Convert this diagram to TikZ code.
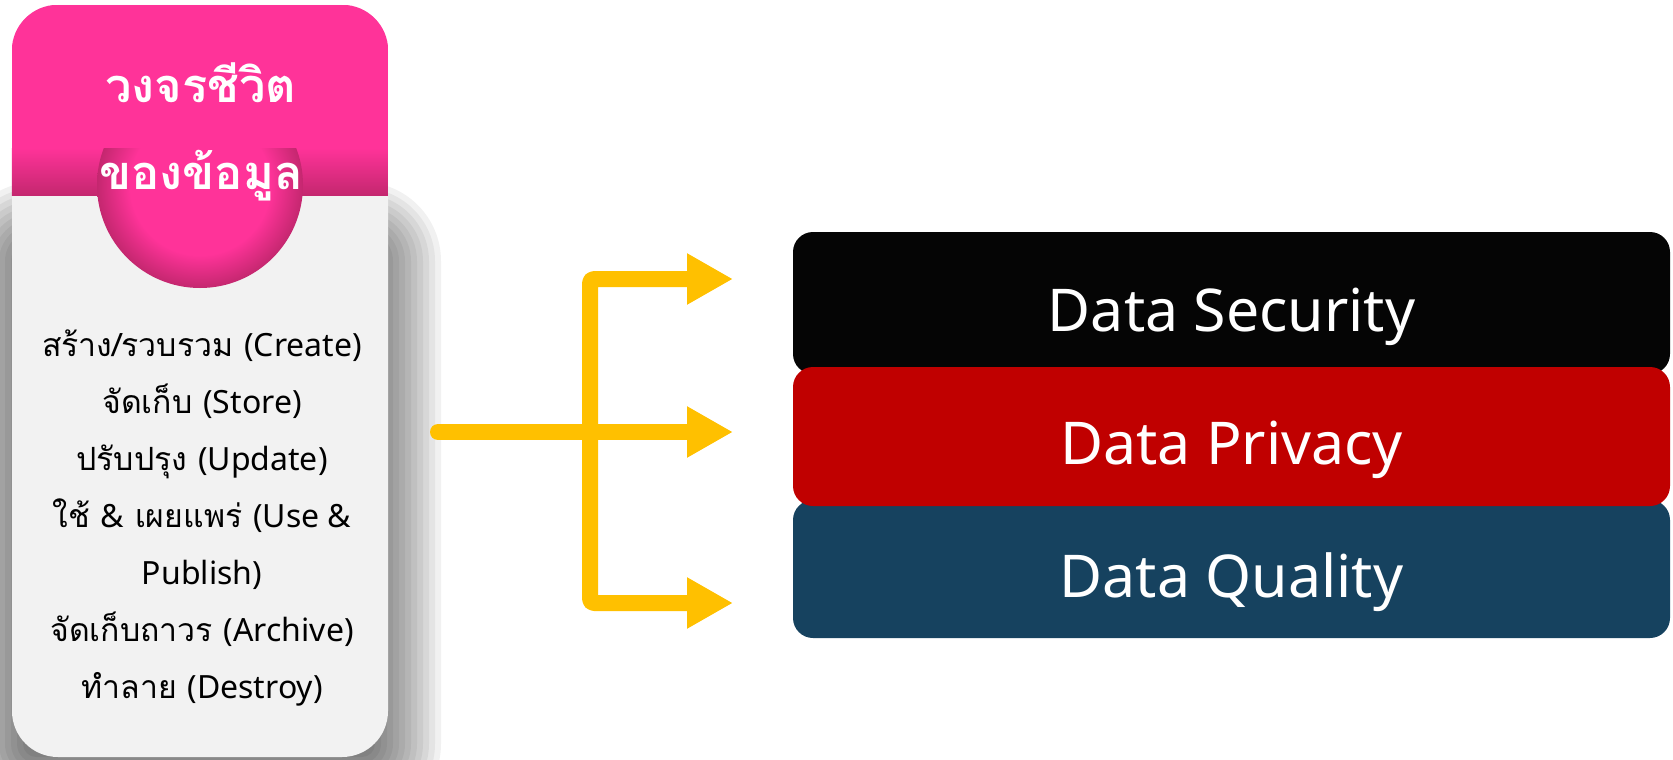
\documentclass[tikz,border=0pt]{standalone}
\usepackage{fontspec}
\usetikzlibrary{arrows.meta}
\newfontfamily\thaifont[Script=Thai]{Loma}
\newfontfamily\boxfont{Noto Sans}
\newcommand\lat[1]{{\boxfont #1}}
\definecolor{cardpink}{HTML}{FF3399}
\definecolor{cardpinkdk}{HTML}{C4276F}
\definecolor{cardgrey}{HTML}{F2F2F2}
\definecolor{flowgold}{HTML}{FFC000}
\definecolor{secblack}{HTML}{050505}
\definecolor{privred}{HTML}{C00000}
\definecolor{qualblue}{HTML}{16425F}
\pgfdeclareradialshading{hubshade}{\pgfpoint{0bp}{0bp}}{color(0bp)=(cardpink); color(17bp)=(cardpink); color(25bp)=(cardpinkdk); color(50bp)=(cardpinkdk)}
\tikzset{
  lifecard/.style={fill=cardgrey, rounded corners=46pt, minimum width=376pt, minimum height=752pt, inner sep=0pt},
  layerbox/.style={rounded corners=20pt, minimum width=877pt, inner sep=0pt, text=white,
    font=\boxfont\fontsize{59}{64}\selectfont, text height=56pt, text depth=0pt},
  flowline/.style={draw=flowgold, line width=16pt, line cap=round, line join=round, rounded corners=4pt},
  bigtip/.tip={Triangle[length=46pt, width=48pt]}
}

\begin{document}
\begin{tikzpicture}[x=1pt, y=-1pt]
  \useasboundingbox (0,0) rectangle (1673,760);
  % soft shadow under the card
  \foreach \k in {0,...,11} {
    \pgfmathsetmacro\e{33-6*\k}
    \fill[black, opacity=0.055, rounded corners={46+\e}] (-10-\e,215-\e) rectangle (408+\e,790+\e);
  }
  \node[lifecard] (card) at (200,381) {};
  \begin{scope}
    \clip[rounded corners=46pt] (card.south west) rectangle (card.north east);
    \fill[cardpink] (card.north west) rectangle (card.east |- 0,195);
    \shade[top color=cardpink, bottom color=cardpinkdk] (card.west |- 0,148) rectangle (card.east |- 0,195);
  \end{scope}
  \begin{scope}
    \clip (0,148) rectangle (400,300);
    \node[circle, minimum size=206pt, inner sep=0pt, shade, shading=hubshade] (hub) at (200,185) {};
  \end{scope}
  \node[font=\thaifont\bfseries\fontsize{47}{87}\selectfont, text=white, align=center] (title) at (201,132) {วงจรชีวิต\\ของข้อมูล};
  \node[font=\thaifont\fontsize{32}{57}\selectfont, align=center] (steps) at (202,518)
    {สร้าง/รวบรวม \lat{(Create)}\\จัดเก็บ \lat{(Store)}\\ปรับปรุง \lat{(Update)}\\ใช้ \lat{\&} เผยแพร่ \lat{(Use \&}\\\lat{Publish)}\\จัดเก็บถาวร \lat{(Archive)}\\ทำลาย \lat{(Destroy)}};

  % branching arrows
  \coordinate (src) at (438,432);
  \coordinate (ft) at (590,279);
  \coordinate (fb) at (590,603);
  \coordinate (t1) at (733,279);
  \coordinate (t2) at (733,432);
  \coordinate (t3) at (733,603);
  \draw[flowline, -bigtip] (src) -- (t2);
  \draw[flowline, bigtip-bigtip] (t1) -- (ft) -- (fb) -- (t3);

  % stacked boxes
  \node[layerbox, fill=secblack, minimum height=142pt] (sec) at (1231.5,303) {Data Security};
  \node[layerbox, fill=qualblue, minimum height=138pt] (qual) at (1231.5,569) {Data Quality};
  \node[layerbox, fill=privred, minimum height=139pt] (priv) at (1231.5,436.5) {Data Privacy};
\end{tikzpicture}
\end{document}
